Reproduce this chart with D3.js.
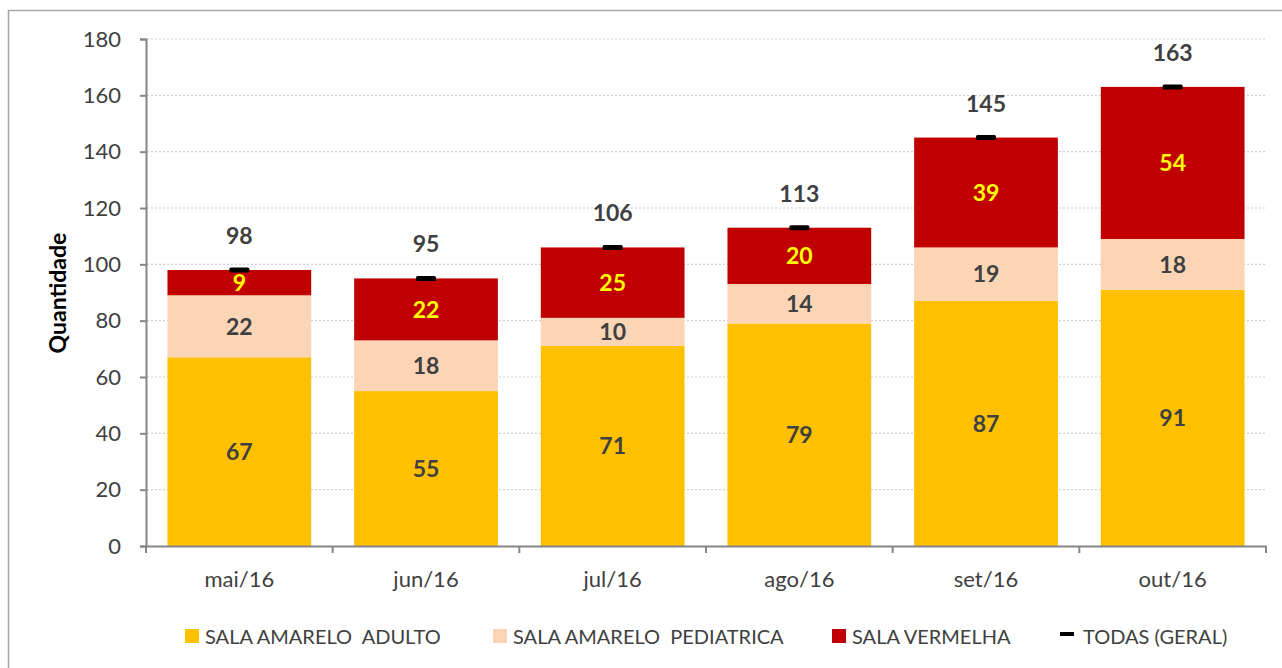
<!DOCTYPE html>
<html>
<head>
<meta charset="utf-8">
<script src="https://cdn.jsdelivr.net/npm/d3@7"></script>
<style>
  html, body { margin: 0; padding: 0; background: #fff; }
  svg { display: block; font-family: Lato, "Open Sans", sans-serif; }
</style>
</head>
<body>
<div id="chart"></div>
<script>
// data
const months = ["mai/16", "jun/16", "jul/16", "ago/16", "set/16", "out/16"];
const adulto = [67, 55, 71, 79, 87, 91];
const pediatrica = [22, 18, 10, 14, 19, 18];
const vermelha = [9, 22, 25, 20, 39, 54];
const todas = [98, 95, 106, 113, 145, 163];
const yTicks = [0, 20, 40, 60, 80, 100, 120, 140, 160, 180];

const seriesNames = ["SALA AMARELO  ADULTO", "SALA AMARELO  PEDIATRICA", "SALA VERMELHA"];
const seriesColors = ["#FFC000", "#FBD5B5", "#C00000"];
const labelColors = ["#404040", "#404040", "#FFFF00"];

const width = 1282;
const height = 668;
const textColor = "#404040";
const axisColor = "#868686";

const svg = d3.select("#chart")
  .append("svg")
  .attr("width", width)
  .attr("height", height);

svg.append("rect")
  .attr("width", width).attr("height", height)
  .attr("fill", "#fff");

// outer chart border (runs off the right and bottom edges)
svg.append("rect")
  .attr("x", 8.5).attr("y", 10.5)
  .attr("width", 1300).attr("height", 700)
  .attr("fill", "none")
  .attr("stroke", "#A6A6A6")
  .attr("stroke-width", 1.5);

const x = d3.scaleBand()
  .domain(months)
  .range([146, 1266])
  .paddingInner(0.23)
  .paddingOuter(0.115);

const y = d3.scaleLinear()
  .domain([0, 180])
  .range([546, 39]);

// gridlines
svg.append("g")
  .selectAll("line")
  .data(yTicks.filter(d => d > 0))
  .join("line")
  .attr("x1", 147).attr("x2", 1266)
  .attr("y1", d => y(d)).attr("y2", d => y(d))
  .attr("stroke", "#D0D0D0")
  .attr("stroke-width", 1.2)
  .attr("stroke-dasharray", "2,2");

// stacked bars
const rows = months.map((m, i) => ({
  month: m, a: adulto[i], p: pediatrica[i], v: vermelha[i], total: todas[i]
}));
const stack = d3.stack().keys(["a", "p", "v"])(rows);

const layers = svg.append("g")
  .selectAll("g")
  .data(stack)
  .join("g")
  .attr("fill", (d, i) => seriesColors[i]);

layers.selectAll("rect")
  .data(d => d)
  .join("rect")
  .attr("x", d => x(d.data.month))
  .attr("width", x.bandwidth())
  .attr("y", d => y(d[1]))
  .attr("height", d => y(d[0]) - y(d[1]));

// segment labels
stack.forEach((layer, li) => {
  svg.append("g")
    .selectAll("text")
    .data(layer)
    .join("text")
    .attr("x", d => x(d.data.month) + x.bandwidth() / 2)
    .attr("y", d => (y(d[0]) + y(d[1])) / 2)
    .attr("dy", "0.36em")
    .attr("text-anchor", "middle")
    .style("font-size", "23px")
    .style("font-weight", "bold")
    .style("fill", labelColors[li])
    .text(d => d[1] - d[0]);
});

// total markers
svg.append("g")
  .selectAll("rect")
  .data(rows)
  .join("rect")
  .attr("x", d => x(d.month) + x.bandwidth() / 2 - 10)
  .attr("y", d => y(d.total) - 2.5)
  .attr("width", 20)
  .attr("height", 5)
  .attr("rx", 1.5)
  .attr("fill", "#000");

svg.append("g")
  .selectAll("text")
  .data(rows)
  .join("text")
  .attr("x", d => x(d.month) + x.bandwidth() / 2)
  .attr("y", d => y(d.total) - 26)
  .attr("text-anchor", "middle")
  .style("font-size", "23px")
  .style("font-weight", "bold")
  .style("fill", textColor)
  .text(d => d.total);

// y axis
const yAxis = svg.append("g")
  .attr("transform", "translate(146,0)")
  .call(d3.axisLeft(y).tickValues(yTicks).tickSize(6).tickPadding(19));
yAxis.select(".domain").attr("stroke", axisColor).attr("stroke-width", 2);
yAxis.selectAll(".tick line").attr("stroke", axisColor).attr("stroke-width", 2);
yAxis.selectAll(".tick text")
  .style("font-size", "22px")
  .style("font-family", "Lato, sans-serif")
  .attr("fill", textColor);

// x axis with ticks at band boundaries
const xAxis = svg.append("g")
  .attr("transform", "translate(0,546)")
  .call(d3.axisBottom(x).tickSize(0).tickPadding(25));
xAxis.select(".domain").attr("stroke", axisColor).attr("stroke-width", 2);
xAxis.selectAll(".tick text")
  .style("font-size", "22px")
  .style("font-family", "Lato, sans-serif")
  .attr("fill", textColor);

const boundaries = months.map(m => x(m) - x.step() * x.paddingInner() / 2)
  .concat([x(months[months.length - 1]) + x.bandwidth() + x.step() * x.paddingInner() / 2]);
xAxis.append("g")
  .selectAll("line")
  .data(boundaries)
  .join("line")
  .attr("x1", d => d).attr("x2", d => d)
  .attr("y1", 0).attr("y2", 7)
  .attr("stroke", axisColor)
  .attr("stroke-width", 2);

// y axis title
svg.append("text")
  .attr("transform", "translate(66,293) rotate(-90)")
  .attr("text-anchor", "middle")
  .style("font-size", "23px")
  .style("font-weight", "bold")
  .style("fill", "#000")
  .text("Quantidade");

// legend
const legendX = [185, 493, 832];
seriesNames.forEach((name, i) => {
  const g = svg.append("g").attr("transform", `translate(${legendX[i]},629)`);
  g.append("rect")
    .attr("width", 14).attr("height", 14)
    .attr("fill", seriesColors[i]);
  g.append("text")
    .attr("x", 20).attr("y", 15)
    .style("font-size", "20px")
    .style("fill", textColor)
    .style("white-space", "pre")
    .text(name);
});
const lg = svg.append("g").attr("transform", "translate(1060,629)");
lg.append("rect")
  .attr("x", 0).attr("y", 3)
  .attr("width", 14).attr("height", 4)
  .attr("fill", "#000");
lg.append("text")
  .attr("x", 23).attr("y", 15)
  .style("font-size", "20px")
  .style("fill", textColor)
  .text("TODAS (GERAL)");
</script>
</body>
</html>
